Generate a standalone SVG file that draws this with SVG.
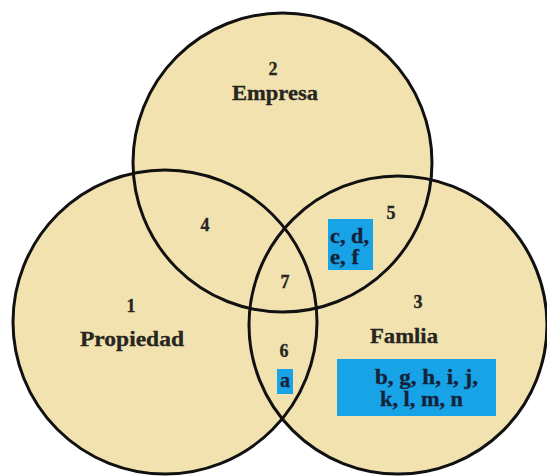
<svg xmlns="http://www.w3.org/2000/svg" width="547" height="476" viewBox="0 0 547 476">
<style>
.fill{fill:#F1E2B0;stroke:none}
.ring{fill:none;stroke:#111;stroke-width:3}
.lbl{font-family:"Liberation Serif","Times New Roman",serif;font-weight:bold;fill:#26251e;stroke:#26251e;stroke-width:0.3;text-anchor:middle}
.big{font-size:21px}
.num{font-size:18px}
.box{fill:#18A3E6}
.bt{font-family:"Liberation Serif","Times New Roman",serif;font-weight:bold;font-size:20px;fill:#14233a;stroke:#14233a;stroke-width:0.3}
</style>
<rect width="547" height="476" fill="#ffffff"/>
<g id="fills">
<circle class="fill" cx="282.5" cy="162.5" r="149.5"/>
<circle class="fill" cx="165" cy="322" r="152"/>
<circle class="fill" cx="398" cy="325" r="149"/>
</g>
<g id="rings">
<circle class="ring" cx="282.5" cy="162.5" r="149.5"/>
<circle class="ring" cx="165" cy="322" r="152"/>
<circle class="ring" cx="398" cy="325" r="149"/>
</g>
<g id="empresa">
<text class="lbl num" x="273" y="75">2</text>
<text class="lbl big" x="275" y="100" textLength="86" lengthAdjust="spacingAndGlyphs">Empresa</text>
</g>
<g id="propiedad">
<text class="lbl num" x="131" y="312">1</text>
<text class="lbl big" x="132" y="346" textLength="104" lengthAdjust="spacingAndGlyphs">Propiedad</text>
</g>
<g id="familia">
<text class="lbl num" x="418" y="308">3</text>
<text class="lbl big" x="404" y="343" textLength="68" lengthAdjust="spacingAndGlyphs">Famlia</text>
<rect class="box" x="337" y="359" width="159" height="57"/>
<text class="bt" x="375" y="384" textLength="103" lengthAdjust="spacingAndGlyphs">b, g, h, i, j,</text>
<text class="bt" x="380" y="406" textLength="83" lengthAdjust="spacingAndGlyphs">k, l, m, n</text>
</g>
<g id="region4">
<text class="lbl num" x="205" y="231">4</text>
</g>
<g id="region5">
<text class="lbl num" x="391" y="219">5</text>
<rect class="box" x="328" y="219" width="45" height="51"/>
<text class="bt" x="330" y="243" textLength="39" lengthAdjust="spacingAndGlyphs">c, d,</text>
<text class="bt" x="330" y="264" textLength="29" lengthAdjust="spacingAndGlyphs">e, f</text>
</g>
<g id="region7">
<text class="lbl num" x="285" y="288">7</text>
</g>
<g id="region6">
<text class="lbl num" x="284" y="357">6</text>
<rect class="box" x="277" y="369" width="16" height="25"/>
<text class="bt" x="285" y="387" text-anchor="middle">a</text>
</g>
</svg>
